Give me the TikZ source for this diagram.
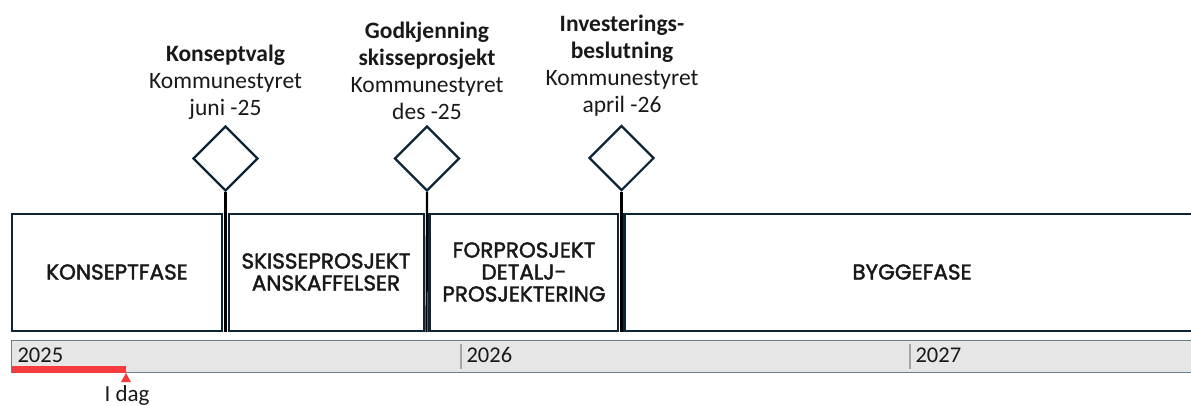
\documentclass[tikz,border=0pt]{standalone}
\usepackage{fontspec}
\usetikzlibrary{shapes.geometric}
\setmainfont{Carlito}
\newfontfamily\phasefont[FakeBold=2]{Poppins}
\begin{document}
\begin{tikzpicture}[x=1pt,y=-1pt,
  phasebox/.style={draw=navy,line width=2.5pt,fill=white},
  phasetxt/.style={font=\phasefont\fontsize{21.5}{22}\selectfont,align=center,text=black!90},
  msdiamond/.style={draw=navy,line width=2.2pt,fill=white,shape=diamond,minimum width=65pt,minimum height=65pt,inner sep=0pt},
  stem/.style={draw=black,line width=2.2pt},
  mstxt/.style={font=\fontsize{23.5}{27}\selectfont,align=center,text=black!90},
  yeartxt/.style={font=\fontsize{22.5}{25}\selectfont,anchor=west,text=black!90},
  tick/.style={draw=gray!70,line width=2pt}]
\definecolor{navy}{HTML}{0E2535}
\definecolor{barfill}{HTML}{E6E6E6}
\definecolor{barline}{HTML}{6E7C85}
\definecolor{todayred}{HTML}{F53B3B}
\useasboundingbox (0,0) rectangle (1191,405);
% timeline bar
\fill[barfill] (11.5,340.5) rectangle (1195,372.5);
\draw[barline,line width=1.5pt] (1195,340.5) -- (11.5,340.5) -- (11.5,372.5) -- (1195,372.5);
\draw[tick] (460.5,344) -- (460.5,369);
\draw[tick] (909.5,344) -- (909.5,369);
\node[yeartxt] (y25) at (14,355) {2025};
\node[yeartxt] (y26) at (463,355) {2026};
\node[yeartxt] (y27) at (912,355) {2027};
% today
\fill[todayred] (11.5,366) rectangle (126,373);
\fill[todayred] (126,373) -- (121,382) -- (131,382) -- cycle;
\node[font=\fontsize{23}{25}\selectfont,text=black!90] (today) at (127,395) {I dag};
% phase boxes
\draw[phasebox] (12,214) rectangle (222,331);
\draw[phasebox] (229,214) rectangle (424,331);
\draw[phasebox] (429.5,214) rectangle (618,331);
\draw[phasebox] (624.5,214) rectangle (1200,331);
\node[phasetxt] (p1) at (117,272) {KONSEPTFASE};
\node[phasetxt] (p2) at (326,272) {SKISSEPROSJEKT\\ANSKAFFELSER};
\node[phasetxt] (p3) at (524,272) {FORPROSJEKT\\DETALJ-\\PROSJEKTERING};
\node[phasetxt] (p4) at (912,272) {BYGGEFASE};
% milestones
\coordinate (b1) at (225.5,332);
\coordinate (b2) at (426.5,332);
\coordinate (b3) at (621.5,332);
\node[msdiamond] (d1) at (225.5,158.5) {};
\node[msdiamond] (d2) at (427,158.5) {};
\node[msdiamond] (d3) at (621.5,158) {};
\draw[stem] (d1.south) -- (b1);
\draw[stem] (d2.south) -- (b2);
\draw[stem] (d3.south) -- (b3);
\node[mstxt,anchor=south] (m1) at (225.5,123) {\textbf{Konseptvalg}\\Kommunestyret\\juni -25};
\node[mstxt,anchor=south] (m2) at (427,123) {\textbf{Godkjenning}\\\textbf{skisseprosjekt}\\Kommunestyret\\des -25};
\node[mstxt,anchor=south] (m3) at (622,120) {\textbf{Investerings-}\\\textbf{beslutning}\\Kommunestyret\\april -26};
\end{tikzpicture}
\end{document}
